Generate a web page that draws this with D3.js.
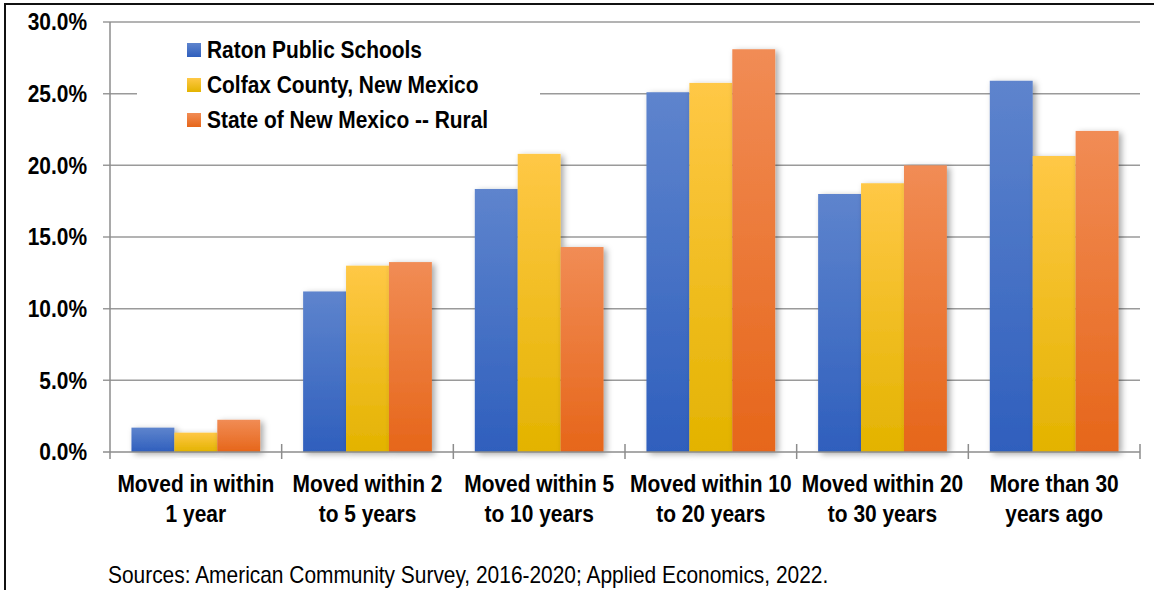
<!DOCTYPE html>
<html>
<head>
<meta charset="utf-8">
<script src="https://cdn.jsdelivr.net/npm/d3@7"></script>
<style>
  html, body { margin: 0; padding: 0; background: #fff; }
  svg { display: block; }
</style>
</head>
<body>
<svg id="chart" width="1154" height="590"></svg>
<script>
// Length of residence: share of households by when they moved in
const categories = [
  ["Moved in within", "1 year"],
  ["Moved within 2", "to 5 years"],
  ["Moved within 5", "to 10 years"],
  ["Moved within 10", "to 20 years"],
  ["Moved within 20", "to 30 years"],
  ["More than 30", "years ago"]
];
const seriesNames = ["Raton Public Schools", "Colfax County, New Mexico", "State of New Mexico -- Rural"];
const raton   = [1.7, 11.2, 18.35, 25.1, 18.0, 25.9];
const colfax  = [1.35, 13.0, 20.8, 25.75, 18.75, 20.65];
const stateNM = [2.25, 13.25, 14.3, 28.1, 20.0, 22.4];
const yTicks  = [0, 5, 10, 15, 20, 25, 30];
const sourceNote = "Sources: American Community Survey, 2016-2020; Applied Economics, 2022.";

const seriesValues = [raton, colfax, stateNM];
const palette = [
  { top: "#5E84CD", bottom: "#2F5FBD" },
  { top: "#FFC846", bottom: "#E3B300" },
  { top: "#F18C55", bottom: "#E6661A" }
];

const svg = d3.select("#chart");
const font = "'Liberation Sans', Arial, Helvetica, sans-serif";
const squeeze = 0.91;   // slightly condensed lettering
const labelSize = 23;

const plot = { left: 110, right: 1140, top: 22, bottom: 452 };

const x0 = d3.scaleBand()
  .domain(d3.range(categories.length))
  .range([plot.left, plot.right])
  .paddingInner(0).paddingOuter(0);

const x1 = d3.scaleBand()
  .domain(d3.range(seriesValues.length))
  .range([0, x0.bandwidth()])
  .paddingOuter(0.5).paddingInner(0);

const y = d3.scaleLinear().domain([0, 30]).range([plot.bottom, plot.top]);

// Defs: gradients and bar shadow
const defs = svg.append("defs");
palette.forEach((c, i) => {
  const g = defs.append("linearGradient")
    .attr("id", "grad" + i)
    .attr("x1", 0).attr("y1", 0).attr("x2", 0).attr("y2", 1);
  g.append("stop").attr("offset", "0%").attr("stop-color", c.top);
  g.append("stop").attr("offset", "100%").attr("stop-color", c.bottom);
});
const shadow = defs.append("filter").attr("id", "shadow")
  .attr("x", "-20%").attr("y", "-20%").attr("width", "150%").attr("height", "150%");
shadow.append("feDropShadow")
  .attr("dx", 3).attr("dy", 2).attr("stdDeviation", 3)
  .attr("flood-color", "#000").attr("flood-opacity", 0.35);

// Places a condensed label whose anchor point is (x, y)
function label(parent, x, y, anchor, weight, size) {
  return parent.append("text")
    .attr("transform", `translate(${x},${y}) scale(${squeeze},1)`)
    .attr("text-anchor", anchor)
    .attr("font-family", font).attr("font-weight", weight).attr("font-size", size)
    .attr("fill", "#000");
}

// Outer frame
svg.append("rect")
  .attr("x", 5).attr("y", 4).attr("width", 1160).attr("height", 600)
  .attr("fill", "none").attr("stroke", "#111").attr("stroke-width", 2);

// Gridlines
svg.append("g")
  .selectAll("line").data(yTicks.filter(t => t > 0)).join("line")
  .attr("x1", plot.left - 7).attr("x2", plot.right)
  .attr("y1", d => y(d)).attr("y2", d => y(d))
  .attr("stroke", "#9a9a9a").attr("stroke-width", 1.5);

// Y axis labels
const yLab = svg.append("g");
yTicks.forEach(t => {
  label(yLab, 87, y(t), "end", "bold", labelSize)
    .attr("dy", "0.36em")
    .text(d3.format(".1f")(t) + "%");
});

// Bars
const groups = svg.append("g")
  .selectAll("g").data(categories.map((c, i) => i)).join("g")
  .attr("transform", i => `translate(${x0(i)},0)`);

groups.selectAll("rect")
  .data(i => seriesValues.map((s, k) => ({ k, v: s[i] })))
  .join("rect")
  .attr("x", d => x1(d.k))
  .attr("width", x1.bandwidth())
  .attr("y", d => y(d.v))
  .attr("height", d => y(0) - y(d.v))
  .attr("fill", d => `url(#grad${d.k})`)
  .attr("filter", "url(#shadow)");

// Axis lines
svg.append("line")
  .attr("x1", plot.left).attr("x2", plot.left)
  .attr("y1", plot.top).attr("y2", plot.bottom + 7)
  .attr("stroke", "#8c8c8c").attr("stroke-width", 1.5);
svg.append("line")
  .attr("x1", plot.left - 7).attr("x2", plot.right)
  .attr("y1", plot.bottom).attr("y2", plot.bottom)
  .attr("stroke", "#8c8c8c").attr("stroke-width", 1.5);
svg.append("g")
  .selectAll("line").data(d3.range(1, categories.length + 1)).join("line")
  .attr("x1", i => plot.left + i * x0.bandwidth())
  .attr("x2", i => plot.left + i * x0.bandwidth())
  .attr("y1", plot.bottom - 8).attr("y2", plot.bottom + 7)
  .attr("stroke", "#8c8c8c").attr("stroke-width", 1.5);

// Category labels (two lines)
const catG = svg.append("g");
categories.forEach((lines, i) => {
  const t = label(catG, x0(i) + x0.bandwidth() / 2, 492, "middle", "bold", labelSize);
  lines.forEach((s, j) => {
    t.append("tspan").attr("x", 0).attr("y", j * 30).text(s);
  });
});

// Legend with white backing
const legend = svg.append("g");
legend.append("rect")
  .attr("x", 137).attr("y", 30).attr("width", 403).attr("height", 108)
  .attr("fill", "#fff");
seriesNames.forEach((name, i) => {
  const cy = 50 + i * 35;
  legend.append("rect")
    .attr("x", 187).attr("y", cy - 7).attr("width", 14).attr("height", 14)
    .attr("fill", `url(#grad${i})`);
  label(legend, 207, cy, "start", "bold", labelSize)
    .attr("dy", "0.36em")
    .text(name);
});

// Source note
label(svg, 108, 583, "start", "normal", 23).text(sourceNote);
</script>
</body>
</html>
